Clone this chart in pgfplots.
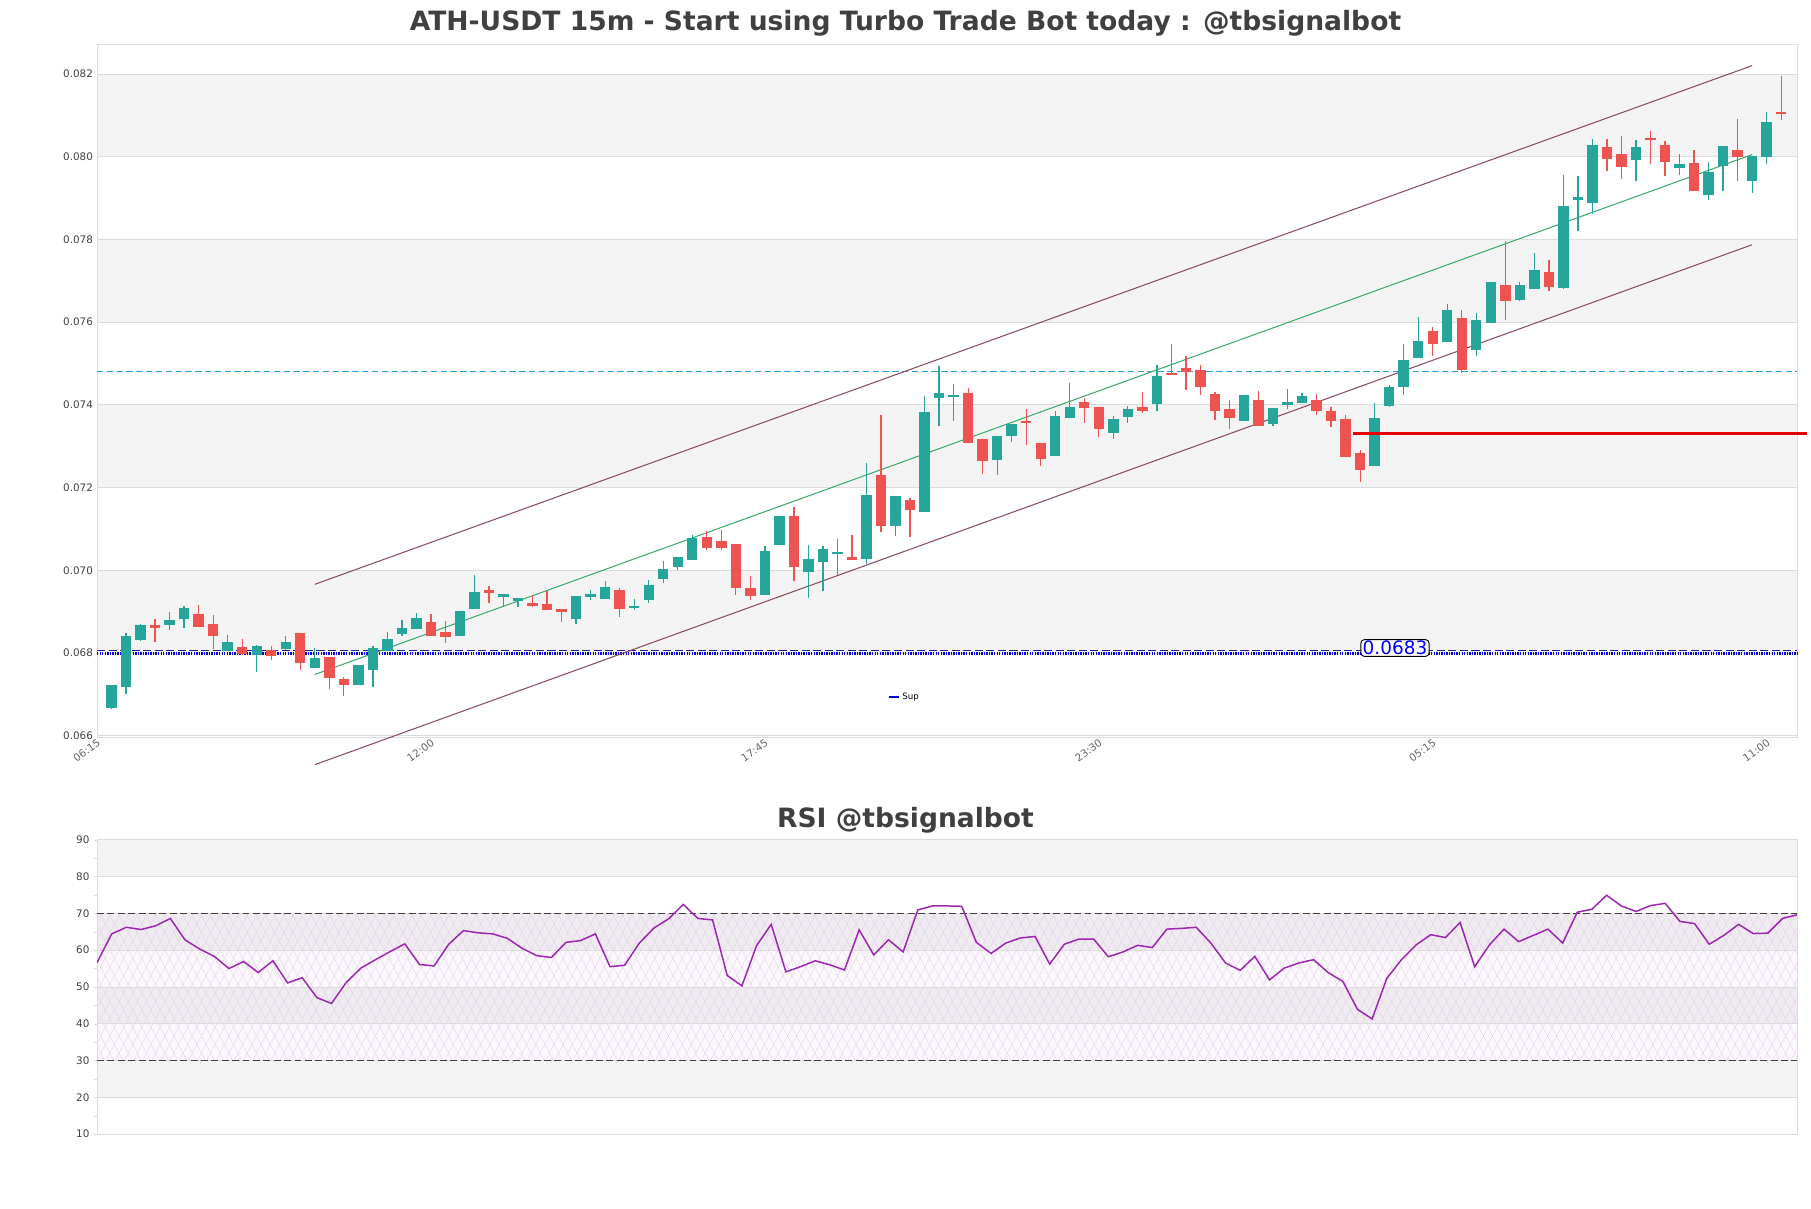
\documentclass[border=0pt]{standalone}
\usepackage{fontspec}
\setmainfont{DejaVu Sans}
\usepackage{pgfplots}
\pgfplotsset{compat=1.18}
\usepackage{pgfplotstable}
\usetikzlibrary{patterns.meta}

\definecolor{upc}{HTML}{26A69A}
\definecolor{dnc}{HTML}{EF5350}
\definecolor{band}{HTML}{F3F3F3}
\definecolor{gridc}{HTML}{DCDCDC}
\definecolor{chan}{HTML}{8A4A62}
\definecolor{midc}{HTML}{3CAA6A}
\definecolor{txt}{HTML}{404040}
\definecolor{rsic}{HTML}{9C27B0}
\definecolor{supc}{HTML}{0000E0}
\definecolor{supd}{HTML}{1E1E8C}
\definecolor{resc}{HTML}{2A9FD6}
\definecolor{hatch}{HTML}{E2D2E8}

% rising candles (close >= open)
\pgfplotstableread{
x o h l c
1 0.06668 0.06723 0.06664 0.06723
2 0.06719 0.06848 0.06701 0.06842
3 0.06832 0.06870 0.06828 0.06868
5 0.06868 0.06900 0.06855 0.06880
6 0.06883 0.06913 0.06860 0.06910
9 0.06806 0.06844 0.06806 0.06827
11 0.06795 0.06820 0.06753 0.06818
13 0.06810 0.06842 0.06808 0.06826
15 0.06763 0.06812 0.06763 0.06788
18 0.06722 0.06772 0.06722 0.06772
19 0.06758 0.06816 0.06718 0.06812
20 0.06806 0.06850 0.06806 0.06834
21 0.06846 0.06880 0.06840 0.06860
22 0.06858 0.06896 0.06858 0.06884
25 0.06842 0.06902 0.06842 0.06902
26 0.06906 0.06989 0.06906 0.06947
28 0.06938 0.06940 0.06911 0.06940
29 0.06925 0.06933 0.06911 0.06933
33 0.06883 0.06938 0.06870 0.06938
34 0.06938 0.06953 0.06927 0.06940
35 0.06931 0.06975 0.06931 0.06959
37 0.06908 0.06931 0.06903 0.06914
38 0.06929 0.06977 0.06922 0.06965
39 0.06979 0.07023 0.06970 0.07004
40 0.07008 0.07032 0.07001 0.07032
41 0.07024 0.07086 0.07024 0.07079
46 0.06941 0.07059 0.06941 0.07047
47 0.07060 0.07132 0.07060 0.07132
49 0.06997 0.07062 0.06933 0.07027
50 0.07021 0.07059 0.06951 0.07052
51 0.07040 0.07076 0.06989 0.07042
53 0.07027 0.07259 0.07016 0.07183
55 0.07106 0.07180 0.07084 0.07180
57 0.07140 0.07422 0.07140 0.07383
58 0.07416 0.07494 0.07348 0.07428
59 0.07419 0.07451 0.07362 0.07425
62 0.07267 0.07325 0.07230 0.07325
63 0.07325 0.07354 0.07309 0.07354
66 0.07276 0.07384 0.07276 0.07373
67 0.07367 0.07452 0.07367 0.07394
70 0.07333 0.07373 0.07317 0.07365
71 0.07371 0.07397 0.07357 0.07389
73 0.07403 0.07496 0.07386 0.07470
79 0.07362 0.07424 0.07362 0.07424
81 0.07354 0.07392 0.07350 0.07392
82 0.07400 0.07439 0.07389 0.07407
83 0.07405 0.07428 0.07405 0.07422
88 0.07253 0.07404 0.07253 0.07368
89 0.07397 0.07448 0.07394 0.07443
90 0.07442 0.07547 0.07424 0.07509
91 0.07514 0.07613 0.07514 0.07555
93 0.07551 0.07644 0.07551 0.07630
95 0.07533 0.07621 0.07517 0.07605
96 0.07599 0.07697 0.07599 0.07697
98 0.07654 0.07696 0.07650 0.07690
99 0.07680 0.07768 0.07680 0.07726
101 0.07683 0.07956 0.07680 0.07881
102 0.07895 0.07954 0.07820 0.07902
103 0.07889 0.08043 0.07861 0.08029
106 0.07991 0.08041 0.07942 0.08023
109 0.07972 0.08007 0.07956 0.07983
111 0.07908 0.07988 0.07894 0.07964
112 0.07978 0.08026 0.07918 0.08026
114 0.07940 0.08002 0.07912 0.08002
115 0.07998 0.08108 0.07982 0.08083
}\upcandles

% falling candles
\pgfplotstableread{
x o h l c
4 0.06866 0.06882 0.06826 0.06862
7 0.06895 0.06915 0.06862 0.06862
8 0.06871 0.06893 0.06810 0.06840
10 0.06814 0.06834 0.06796 0.06797
12 0.06808 0.06818 0.06782 0.06792
14 0.06848 0.06848 0.06758 0.06776
16 0.06790 0.06790 0.06713 0.06739
17 0.06738 0.06742 0.06695 0.06722
23 0.06875 0.06894 0.06840 0.06840
24 0.06850 0.06878 0.06825 0.06838
27 0.06953 0.06961 0.06921 0.06945
30 0.06921 0.06941 0.06911 0.06914
31 0.06918 0.06949 0.06903 0.06903
32 0.06907 0.06907 0.06874 0.06900
36 0.06953 0.06957 0.06888 0.06907
42 0.07080 0.07094 0.07048 0.07055
43 0.07071 0.07098 0.07049 0.07055
44 0.07064 0.07064 0.06941 0.06958
45 0.06957 0.06985 0.06929 0.06937
48 0.07132 0.07152 0.06975 0.07007
52 0.07032 0.07086 0.07025 0.07026
54 0.07231 0.07376 0.07092 0.07108
56 0.07170 0.07174 0.07080 0.07145
60 0.07428 0.07440 0.07307 0.07307
61 0.07317 0.07317 0.07233 0.07265
64 0.07360 0.07390 0.07303 0.07358
65 0.07307 0.07307 0.07251 0.07270
68 0.07407 0.07416 0.07357 0.07393
69 0.07394 0.07394 0.07321 0.07341
72 0.07396 0.07430 0.07381 0.07386
74 0.07476 0.07547 0.07473 0.07474
75 0.07488 0.07517 0.07436 0.07480
76 0.07484 0.07496 0.07424 0.07442
77 0.07426 0.07432 0.07363 0.07386
78 0.07390 0.07412 0.07341 0.07367
80 0.07412 0.07434 0.07349 0.07349
84 0.07412 0.07426 0.07376 0.07386
85 0.07385 0.07394 0.07346 0.07360
86 0.07366 0.07376 0.07273 0.07273
87 0.07283 0.07291 0.07214 0.07243
92 0.07579 0.07588 0.07519 0.07547
94 0.07611 0.07630 0.07478 0.07484
97 0.07690 0.07797 0.07605 0.07652
100 0.07720 0.07750 0.07674 0.07684
104 0.08023 0.08043 0.07966 0.07995
105 0.08006 0.08050 0.07945 0.07974
107 0.08044 0.08061 0.07982 0.08042
108 0.08029 0.08037 0.07954 0.07986
110 0.07984 0.08015 0.07916 0.07916
113 0.08015 0.08091 0.07940 0.07998
116 0.08108 0.08194 0.08089 0.08103
}\dncandles

\pgfplotstableread{
x rsi
0 56.6
1 64.4
2 66.2
3 65.6
4 66.6
5 68.6
6 62.8
7 60.3
8 58.3
9 55.0
10 56.9
11 53.9
12 57.1
13 51.1
14 52.5
15 47.1
16 45.5
17 51.2
18 55.1
19 57.4
20 59.6
21 61.7
22 56.1
23 55.7
24 61.6
25 65.3
26 64.7
27 64.4
28 63.2
29 60.5
30 58.5
31 58.0
32 62.1
33 62.6
34 64.4
35 55.5
36 55.9
37 61.9
38 66.0
39 68.5
40 72.4
41 68.6
42 68.2
43 53.1
44 50.3
45 61.2
46 67.0
47 54.1
48 55.5
49 57.1
50 56.0
51 54.6
52 65.5
53 58.7
54 62.8
55 59.5
56 70.9
57 72.0
58 72.0
59 71.9
60 62.1
61 59.1
62 61.9
63 63.3
64 63.7
65 56.2
66 61.6
67 63.0
68 63.0
69 58.2
70 59.5
71 61.3
72 60.7
73 65.7
74 65.9
75 66.2
76 61.9
77 56.5
78 54.5
79 58.3
80 51.9
81 55.1
82 56.5
83 57.4
84 53.9
85 51.5
86 43.9
87 41.3
88 52.3
89 57.4
90 61.4
91 64.2
92 63.4
93 67.5
94 55.5
95 61.4
96 65.7
97 62.3
98 64.0
99 65.7
100 61.9
101 70.3
102 71.1
103 74.9
104 72.0
105 70.5
106 72.1
107 72.7
108 67.8
109 67.2
110 61.6
111 64.0
112 67.0
113 64.5
114 64.6
115 68.6
116 69.6
}\rsidata

\pgfplotsset{
  wick/.style={forget plot, only marks, mark=*, mark size=0pt,
    mark options={draw=none, fill=none},
    error bars/.cd, y dir=both, y explicit, error mark=none,
    error bar style={line width=1.1pt}},
  body/.style={forget plot, only marks, mark=*, mark size=0pt,
    mark options={draw=none, fill=none},
    error bars/.cd, y dir=both, y explicit, error mark=none,
    error bar style={line width=9pt}},
  panel/.style={scale only axis, width=1472pt, anchor=south west,
    set layers, axis line style={gridc}, tick style={gridc},
    xtick pos=left, ytick pos=left,
    tick align=outside, minor tick length=3pt,
    ymajorgrids, major grid style={gridc, line width=0.6pt},
    ticklabel style={font=\fontsize{9}{10}\selectfont, text=black!75},
    /pgf/number format/assume math mode=true},
}

\begin{document}
\begin{tikzpicture}[x=1pt,y=1pt]
\path (0,0) rectangle (1568,1046);
\node[font=\fontsize{23}{27}\selectfont\bfseries, text=txt] at (784,1026)
  {ATH-USDT 15m - Start using Turbo Trade Bot today : @tbsignalbot};
\node[font=\fontsize{23}{27}\selectfont\bfseries, text=txt] at (784,336)
  {RSI @tbsignalbot};

% price panel
\begin{axis}[panel, at={(84pt,408pt)}, height=600pt,
  xmin=0, xmax=117.1, ymin=0.065972, ymax=0.082726,
  clip=false, major tick length=0pt,
  scaled y ticks=false,
  ytick={0.066,0.068,0.070,0.072,0.074,0.076,0.078,0.080,0.082},
  yticklabel style={/pgf/number format/.cd, fixed, fixed zerofill, precision=3},
  xtick={0,23,46,69,92,115},
  xticklabels={06:15,12:00,17:45,23:30,05:15,11:00},
  xticklabel style={rotate=35, anchor=north east, text=black!60, inner sep=1pt},
  legend style={at={(0.475,0.058)}, anchor=center, draw=none, fill=none,
    font=\fontsize{7.5}{9}\selectfont},
  legend image code/.code={\draw[#1] (0pt,0pt) -- (9pt,0pt);},
]
\begin{pgfonlayer}{axis background}
  \fill[band] (axis cs:0,0.068) rectangle (axis cs:117.1,0.070);
  \fill[band] (axis cs:0,0.072) rectangle (axis cs:117.1,0.074);
  \fill[band] (axis cs:0,0.076) rectangle (axis cs:117.1,0.078);
  \fill[band] (axis cs:0,0.080) rectangle (axis cs:117.1,0.082);
\end{pgfonlayer}

% support / resistance levels
\addplot[forget plot, resc, line width=1pt, dash pattern=on 5.5pt off 3pt]
  coordinates {(0,0.0748) (117.1,0.0748)};
\addplot[forget plot, supd, line width=1.2pt, dash pattern=on 7pt off 3pt]
  coordinates {(0,0.06806) (117.1,0.06806)};
\addplot[forget plot, supc, line width=2.6pt, dash pattern=on 1.2pt off 1pt]
  coordinates {(0,0.06799) (117.1,0.06799)};
\addlegendimage{supc, line width=1.5pt}
\addlegendentry{Sup}

% regression channel
\addplot[forget plot, chan, line width=0.9pt] coordinates {(15,0.06966) (114,0.08220)};
\addplot[forget plot, midc, line width=0.9pt] coordinates {(15,0.06748) (114,0.08005)};
\addplot[forget plot, chan, line width=0.9pt] coordinates {(15,0.06530) (114,0.07787)};

% candles
\addplot[upc, wick] table[x=x, y expr={(\thisrow{h}+\thisrow{l})/2},
  y error expr={(\thisrow{h}-\thisrow{l})/2}] {\upcandles};
\addplot[upc, body] table[x=x, y expr={(\thisrow{o}+\thisrow{c})/2},
  y error expr={max(abs(\thisrow{c}-\thisrow{o})/2,0.000028)}] {\upcandles};
\addplot[dnc, wick] table[x=x, y expr={(\thisrow{h}+\thisrow{l})/2},
  y error expr={(\thisrow{h}-\thisrow{l})/2}] {\dncandles};
\addplot[dnc, body] table[x=x, y expr={(\thisrow{o}+\thisrow{c})/2},
  y error expr={max(abs(\thisrow{c}-\thisrow{o})/2,0.000028)}] {\dncandles};

\addplot[forget plot, red!90!black, line width=2.6pt]
  coordinates {(86.5,0.07331) (117.8,0.07331)};

\node[draw=black, fill=white, rounded corners=3pt, text=blue, inner xsep=1.5pt, inner ysep=1.2pt,
  line width=0.8pt, font=\fontsize{16}{17}\selectfont] at (axis cs:89.4,0.06812) {0.0683};
\end{axis}

% RSI panel
\begin{axis}[panel, at={(84pt,64pt)}, height=255pt,
  xmin=0, xmax=116, ymin=10, ymax=90,
  xtick=\empty, major tick length=3pt,
  ytick={10,20,...,90}, minor ytick={15,25,...,85},
]
\begin{pgfonlayer}{axis background}
  \fill[band] (axis cs:0,80) rectangle (axis cs:116,90);
  \fill[band] (axis cs:0,60) rectangle (axis cs:116,70);
  \fill[band] (axis cs:0,40) rectangle (axis cs:116,50);
  \fill[band] (axis cs:0,20) rectangle (axis cs:116,30);
  \fill[rsic, fill opacity=0.035] (axis cs:0,30) rectangle (axis cs:116,70);
  \fill[pattern={Lines[angle=62,distance=7pt,line width=0.35pt]}, pattern color=hatch]
    (axis cs:0,30) rectangle (axis cs:116,70);
  \fill[pattern={Lines[angle=118,distance=7pt,line width=0.35pt]}, pattern color=hatch]
    (axis cs:0,30) rectangle (axis cs:116,70);
\end{pgfonlayer}
\addplot[black!75, line width=0.9pt, dash pattern=on 6pt off 3pt] coordinates {(0,70) (116,70)};
\addplot[black!75, line width=0.9pt, dash pattern=on 6pt off 3pt] coordinates {(0,30) (116,30)};
\addplot[rsic, line width=1.3pt] table[x=x, y=rsi] {\rsidata};
\end{axis}
\end{tikzpicture}
\end{document}
